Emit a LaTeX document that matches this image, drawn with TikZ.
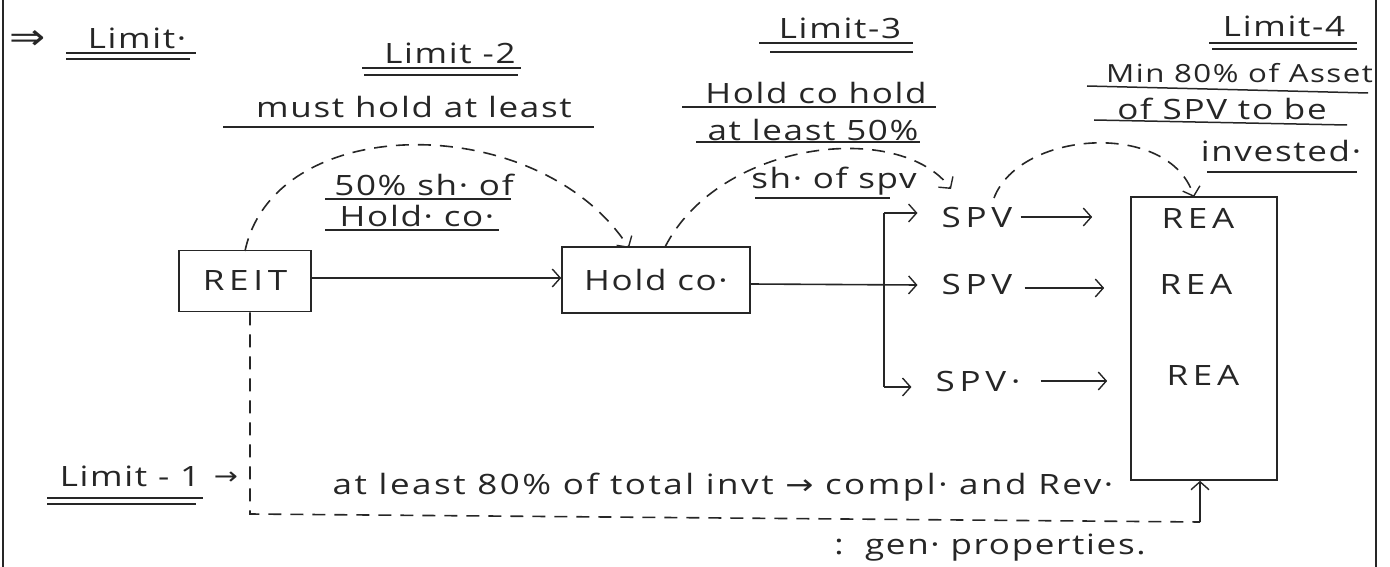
\documentclass[tikz,border=0pt]{standalone}
\usepackage{fontspec}
\setmainfont{Open Sans}[FakeStretch=1.25,LetterSpace=6]
\newfontfamily\dvfont{DejaVu Sans}[FakeStretch=1.2]
\usetikzlibrary{arrows.meta}
\begin{document}
\begin{tikzpicture}[x=1pt,y=-1pt,
  hw/.style={inner sep=0pt,font=\fontsize{28}{30}\selectfont,text=black!85},
  caps/.style={hw,font=\fontsize{28}{30}\selectfont\addfontfeatures{LetterSpace=17}},
  ln/.style={line width=1.6pt,black!85},
  ul/.style={line width=1.5pt,black!85},
  dsh/.style={ln,dash pattern=on 13pt off 9pt},
  arr/.style={-{Straight Barb[length=8pt,width=18pt,line width=1.4pt]}},
  box/.style={draw,ln,inner sep=0pt}]
\useasboundingbox (0,0) rectangle (1390,567);
% frame edges
\draw[ln] (3,0) -- (3,567);
\draw[ln] (1376,0) -- (1376,567);
% headings
\node[hw,font=\fontsize{36}{38}\dvfont] (imp) at (28,40) {⇒};
\node[hw] (lim) at (137,38) {Limit·};
\draw[ul] (66,53) -- (196,53); \draw[ul] (66,59) -- (190,59);
\node[hw] (lim2) at (450,53) {Limit -2};
\draw[ul] (362,68) -- (521,68); \draw[ul] (364,75) -- (518,75);
\node[hw] (must) at (414,107) {must hold at least};
\draw[ul] (223,127) -- (594,127);
\node[hw] (lim3) at (840,28) {Limit-3};
\draw[ul] (759,43) -- (913,43); \draw[ul] (770,52) -- (913,52);
\node[hw] (hc1) at (816,93) {Hold co hold};
\draw[ul] (682,107) -- (936,107);
\node[hw] (hc2) at (813,130) {at least 50\%};
\draw[ul] (696,142) -- (920,142);
\node[hw] (lim4) at (1284,26) {Limit-4};
\draw[ul] (1209,43) -- (1357,43); \draw[ul] (1212,49) -- (1357,49);
\node[hw,anchor=west,font=\fontsize{25}{27}\selectfont] (m1) at (1106,73) {Min 80\% of Asset};
\draw[ul] (1087,86) -- (1368,93);
\node[hw] (m2) at (1222,109) {of SPV to be};
\draw[ul] (1094,120) -- (1347,125);
\node[hw] (m3) at (1281,151) {invested·};
\draw[ul] (1207,172) -- (1357,172);
\node[hw] (s1) at (424,185) {50\% sh· of};
\draw[ul] (325,199) -- (511,199);
\node[hw] (s2) at (417,216) {Hold· co·};
\draw[ul] (325,230) -- (499,230);
\node[hw] (s3) at (834,181) {sh· of spv};
\draw[ul] (755,198) -- (890,198);
% boxes
\node[box,caps,minimum width=132pt,minimum height=61pt] (reit) at (245,281) {REIT};
\node[box,hw,minimum width=188pt,minimum height=66pt] (hold) at (656,280) {Hold co·};
\node[caps] (spv1) at (977,217) {SPV};
\node[caps] (spv2) at (977,284) {SPV};
\node[caps] (spv3) at (978,381) {SPV·};
\node[box,minimum width=146pt,minimum height=283pt] (rea) at (1204,338.5) {};
\node[caps] (rea1) at (1198,218) {REA};
\node[caps] (rea2) at (1196,284) {REA};
\node[caps] (rea3) at (1203,375) {REA};
% limit 1
\node[hw] (lim1) at (130,476) {Limit - 1};
\draw[ul] (47,498) -- (203,498); \draw[ul] (47,504) -- (196,504);
\node[hw,font=\fontsize{24}{26}\dvfont] (l1a) at (226,478) {→};
\node[hw,font=\fontsize{28}{30}\selectfont\addfontfeatures{LetterSpace=9}] (bot) at (723,487) {at least 80\% of total invt {\dvfont →} compl· and Rev·};
\node[hw] (gen) at (990,548) {:\ \ gen· properties.};
% connectors
\coordinate (a1s) at (245,251);
\coordinate (a1e) at (629,248);
\coordinate (a2s) at (665,247);
\coordinate (a2e) at (951,189);
\coordinate (a3s) at (994,198);
\coordinate (a3e) at (1194,197);
\draw[ln,arr] (reit.east |- 0,278) -- (hold.west |- 0,278);
\draw[dsh,arr] (a1s) .. controls (275,110) and (540,110) .. (a1e);
\draw[dsh,arr] (a2s) .. controls (720,140) and (900,120) .. (a2e);
\draw[dsh,arr] (a3s) .. controls (1020,130) and (1170,120) .. (a3e);
\coordinate (bt) at (884,213);
\coordinate (bb) at (884,387);
\draw[ln] (bt) -- (bb);
\draw[ln,arr] (bt) -- ([xshift=-24pt]bt -| spv1.west);
\draw[ln,arr] (bb) -- ([xshift=-24pt]bb -| spv3.west);
\draw[ln,arr] (hold.east |- 0,284) -- ([xshift=-24pt]spv2.west |- 0,285);
\draw[ln,arr] ([xshift=8pt]spv1.east) -- ([xshift=-38pt]spv1.east -| rea.west);
\draw[ln,arr] ([xshift=12pt,yshift=-4pt]spv2.east) -- ([xshift=-26pt,yshift=-4pt]spv2.east -| rea.west);
\draw[ln,arr] ([xshift=20pt]spv3.east) -- ([xshift=-23pt]spv3.east -| rea.west);
\coordinate (c1) at (250,514);
\coordinate (c2) at (1200,522);
\draw[dsh] ([xshift=5pt]reit.south) -- (c1) -- (c2);
\draw[ln,arr] (c2) -- (c2 |- rea.south);
\end{tikzpicture}
\end{document}
